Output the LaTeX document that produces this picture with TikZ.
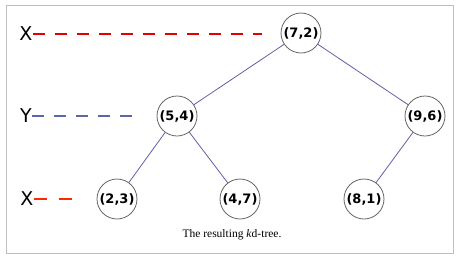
\documentclass[tikz,border=0pt]{standalone}
\usepackage{fontspec}
\setsansfont{DejaVu Sans}
\newfontfamily\capfont{Liberation Serif}
\definecolor{ydash}{HTML}{5A68A8}
\definecolor{edgec}{HTML}{6060A8}
\begin{document}
\begin{tikzpicture}[x=1pt,y=-1pt,
  kd/.style={circle,draw=black!60,line width=0.8pt,minimum size=40pt,inner sep=0pt,font=\sffamily\bfseries\fontsize{13}{14}\selectfont},
  axis/.style={font=\sffamily\fontsize{19}{20}\selectfont,inner sep=0pt,anchor=center},
  edge/.style={draw=edgec,line width=0.8pt},
  splitx/.style={draw=red!90!black,line width=1.4pt,dash pattern=on 12pt off 10pt},
  splity/.style={draw=ydash,line width=1.2pt,dash pattern=on 12pt off 10pt},
  splitx2/.style={draw=red!70!orange,line width=1.1pt,dash pattern=on 13pt off 12pt}]
\useasboundingbox (0,0) rectangle (459,255);
\fill[white] (0,0) rectangle (459,255);
\draw[black!25,line width=1pt] (6,5) rectangle (453,253);
\node[kd] (n72) at (301,33) {(7,2)};
\node[kd] (n54) at (177,116) {(5,4)};
\node[kd] (n96) at (425,116) {(9,6)};
\node[kd] (n23) at (117,199) {(2,3)};
\node[kd] (n47) at (240,199) {(4,7)};
\node[kd] (n81) at (364,199) {(8,1)};
\draw[edge] (n72) -- (n54);
\draw[edge] (n72) -- (n96);
\draw[edge] (n54) -- (n23);
\draw[edge] (n54) -- (n47);
\draw[edge] (n96) -- (n81);
\node[axis] (lx1) at (26,34) {X};
\node[axis] (ly) at (26,116) {Y};
\node[axis] (lx2) at (27,199) {X};
\coordinate (ex1) at (262,34);
\coordinate (ey) at (137,116);
\coordinate (ex2) at (74,199);
\draw[splitx] (lx1.east) -- (ex1);
\draw[splity] (ly.east) -- (ey);
\draw[splitx2] (lx2.east) -- (ex2);
\node[font=\capfont\fontsize{11.5}{13}\selectfont] (cap) at (232,235) {The resulting \textit{k}d-tree.};
\end{tikzpicture}
\end{document}
